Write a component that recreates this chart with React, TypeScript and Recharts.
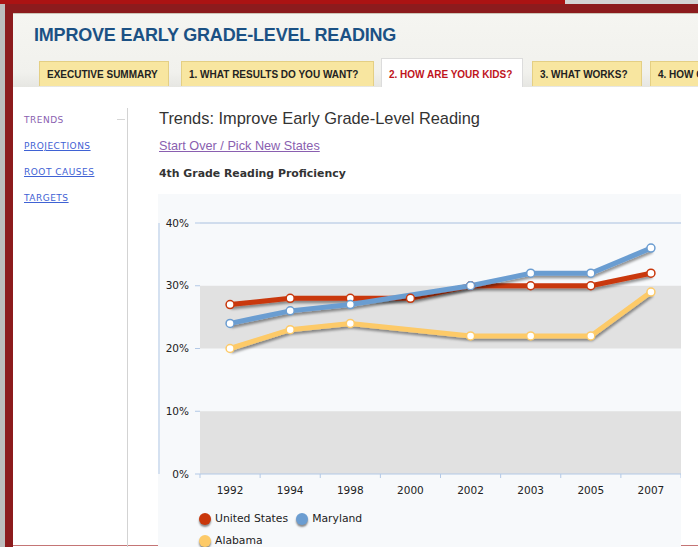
import React from 'react';
import {
  LineChart, Line, XAxis, YAxis, ReferenceArea, ReferenceLine
} from 'recharts';

// Chart data
const years = ['1992', '1994', '1998', '2000', '2002', '2003', '2005', '2007'];
const unitedStates = [27, 28, 28, 28, 30, 30, 30, 32];
const maryland = [24, 26, 27, null, 30, 32, 32, 36];
const alabama = [20, 23, 24, null, 22, 22, 22, 29];

const yTicks = [0, 10, 20, 30, 40];
const yMinorTicks = [0, 2.5, 5, 7.5, 10, 12.5, 15, 17.5, 20, 22.5, 25, 27.5, 30, 32.5, 35, 37.5, 40];
const shadedBands = [[0, 10], [20, 30]];

const series = [
  { key: 'us', name: 'United States', values: unitedStates, color: '#c9370b' },
  { key: 'md', name: 'Maryland', values: maryland, color: '#6b9dd1' },
  { key: 'al', name: 'Alabama', values: alabama, color: '#fdca68' }
];

// Page chrome text
const tabs = [
  { label: 'EXECUTIVE SUMMARY', left: 39, width: 130 },
  { label: '1. WHAT RESULTS DO YOU WANT?', left: 181, width: 193 },
  { label: '2. HOW ARE YOUR KIDS?', left: 381, width: 142, active: true },
  { label: '3. WHAT WORKS?', left: 532, width: 110 },
  { label: '4. HOW CAN YOU DO IT?', left: 650, width: 140 }
];
const sideLinks = ['TRENDS', 'PROJECTIONS', 'ROOT CAUSES', 'TARGETS'];

const chartData = years.map((year, i) => ({
  idx: i,
  year,
  us: unitedStates[i],
  md: maryland[i],
  al: alabama[i]
}));
const edgeTicks = [...years.map((_, i) => i - 0.5), years.length - 0.5];

const AXIS_BLUE = '#b3c9e6';
const CHART_FONT = '"DejaVu Sans", Verdana, sans-serif';

const EmptyTick = () => <g />;

const pct = (v: number) => `${v}%`;

export default function App() {
  return (
    <div style={{ position: 'absolute', left: 0, top: 0, width: 698, height: 547, overflow: 'hidden', background: '#fff', fontFamily: '"Liberation Sans", Arial, sans-serif' }}>
      <style>{`.line-shadow { filter: url(#lineShadow); }`}</style>
      <svg width={0} height={0} style={{ position: 'absolute' }}>
        <defs>
          <filter id="lineShadow" x="-10%" y="-20%" width="120%" height="160%">
            <feDropShadow dx="1" dy="2.5" stdDeviation="1.2" floodColor="#000" floodOpacity="0.4" />
          </filter>
        </defs>
      </svg>

      {/* frame */}
      <div style={{ position: 'absolute', left: 0, top: 0, width: 565, height: 4, background: '#ab1313' }} />
      <div style={{ position: 'absolute', left: 565, top: 0, width: 133, height: 4, background: '#d3d3d3' }} />
      <div style={{ position: 'absolute', left: 0, top: 4, width: 5, height: 543, background: '#bdbdbd' }} />
      <div style={{ position: 'absolute', left: 5, top: 4, width: 693, height: 543, background: '#8c1b1d' }} />

      {/* panel */}
      <div style={{ position: 'absolute', left: 13, top: 13, width: 685, height: 534, background: '#fff' }} />
      <div style={{ position: 'absolute', left: 13, top: 13, width: 685, height: 74, background: 'linear-gradient(#f5f5f1, #f1f1ed 80%, #e6e6e2)', borderTop: '1px solid #cdc5b6', boxSizing: 'border-box' }} />
      <div style={{ position: 'absolute', left: 34, top: 25, fontSize: 18, fontWeight: 'bold', color: '#1b5184', letterSpacing: -0.2, whiteSpace: 'nowrap' }}>
        IMPROVE EARLY GRADE-LEVEL READING
      </div>
      {tabs.map((t) => (
        <div key={t.label} style={{
          position: 'absolute', left: t.left, top: t.active ? 58 : 61, width: t.width, height: t.active ? 29 : 25,
          boxSizing: 'border-box', background: t.active ? '#fff' : '#f8e6a0',
          border: t.active ? '1px solid #dcdcdc' : '1px solid #e4cf84', borderBottom: 'none',
          fontSize: 10, fontWeight: 'bold', color: t.active ? '#c0141c' : '#222',
          lineHeight: t.active ? '31px' : '25px', paddingLeft: 7, whiteSpace: 'nowrap', overflow: 'hidden'
        }}>
          {t.label}
        </div>
      ))}
      <div style={{ position: 'absolute', left: 13, top: 545, width: 685, height: 1, background: '#c47575' }} />

      {/* side nav */}
      {sideLinks.map((label, i) => (
        <div key={label} style={{
          position: 'absolute', left: 24, top: 115 + i * 26, fontFamily: CHART_FONT, fontSize: 9,
          letterSpacing: 0.5, color: i === 0 ? '#8a5fb0' : '#3f62d4', textDecoration: i === 0 ? 'none' : 'underline'
        }}>
          {label}
        </div>
      ))}
      <div style={{ position: 'absolute', left: 117, top: 119, width: 8, height: 1, background: '#d6d6d6' }} />
      <div style={{ position: 'absolute', left: 127, top: 108, width: 1, height: 439, background: '#d3d3d3' }} />

      {/* main heading */}
      <div style={{ position: 'absolute', left: 159, top: 109, fontSize: 16.4, color: '#333', whiteSpace: 'nowrap' }}>
        Trends: Improve Early Grade-Level Reading
      </div>
      <div style={{ position: 'absolute', left: 159, top: 139, fontSize: 12.7, color: '#8a5fb0', textDecoration: 'underline', whiteSpace: 'nowrap' }}>
        Start Over / Pick New States
      </div>
      <div style={{ position: 'absolute', left: 159, top: 167, fontFamily: CHART_FONT, fontSize: 10.9, fontWeight: 'bold', color: '#333', whiteSpace: 'nowrap' }}>
        4th Grade Reading Proficiency
      </div>

      {/* chart */}
      <div style={{ position: 'absolute', left: 158, top: 194, width: 523, height: 353, background: '#f7f9fb' }}>
        <LineChart
          width={523}
          height={353}
          data={chartData}
          margin={{ top: 29, right: 0, left: 0, bottom: 43 }}
          style={{ fontFamily: CHART_FONT }}
        >
          <XAxis
            xAxisId="edge"
            dataKey="idx"
            type="number"
            domain={[-0.5, years.length - 0.5]}
            ticks={edgeTicks}
            height={1}
            stroke={AXIS_BLUE}
            tickSize={4}
            tick={EmptyTick}
            interval={0}
          />
          <XAxis
            xAxisId="main"
            dataKey="idx"
            type="number"
            domain={[-0.5, years.length - 0.5]}
            ticks={years.map((_, i) => i)}
            tickFormatter={(v: number) => years[v]}
            height={29}
            axisLine={false}
            tickLine={false}
            tickSize={0}
            tickMargin={12}
            interval={0}
            tick={{ fill: '#222', fontSize: 10.5 }}
          />
          <YAxis
            yAxisId="minor"
            type="number"
            domain={[0, 40]}
            ticks={yMinorTicks}
            width={1}
            stroke={AXIS_BLUE}
            tickSize={3}
            tick={EmptyTick}
            interval={0}
          />
          <YAxis
            yAxisId="main"
            type="number"
            domain={[0, 40]}
            ticks={yTicks}
            width={41}
            axisLine={false}
            stroke={AXIS_BLUE}
            tickSize={5}
            tickMargin={6}
            tickFormatter={pct}
            interval={0}
            tick={{ fill: '#222', fontSize: 10.5 }}
          />
          {shadedBands.map(([y1, y2]) => (
            <ReferenceArea
              key={y1}
              xAxisId="main"
              yAxisId="main"
              y1={y1}
              y2={y2}
              fill="#e1e1e1"
              fillOpacity={1}
              stroke="none"
            />
          ))}
          <ReferenceLine xAxisId="main" yAxisId="main" y={40} stroke="#a9c0df" strokeWidth={1} />
          {series.map((s) => (
            <Line
              key={s.key}
              xAxisId="main"
              yAxisId="main"
              type="linear"
              dataKey={s.key}
              name={s.name}
              stroke={s.color}
              strokeWidth={5}
              connectNulls
              className="line-shadow"
              dot={{ r: 4, fill: '#fff', stroke: s.color, strokeWidth: 1.5 }}
              activeDot={false}
              isAnimationActive={false}
            />
          ))}
        </LineChart>

        {/* legend */}
        <div style={{ position: 'absolute', left: 41, top: 318, width: 220, fontFamily: CHART_FONT, fontSize: 10.8, color: '#222', display: 'flex', flexWrap: 'wrap', rowGap: 9 }}>
          {series.map((s, i) => (
            <div key={s.key} style={{ display: 'flex', alignItems: 'center', marginRight: i === 0 ? 8 : 3, width: i === 1 ? 100 : undefined }}>
              <span style={{ display: 'inline-block', width: 12, height: 12, borderRadius: 6, background: s.color, boxShadow: '0 2px 2px rgba(0,0,0,0.45)', marginRight: 4 }} />
              {s.name}
            </div>
          ))}
        </div>
      </div>
    </div>
  );
}
